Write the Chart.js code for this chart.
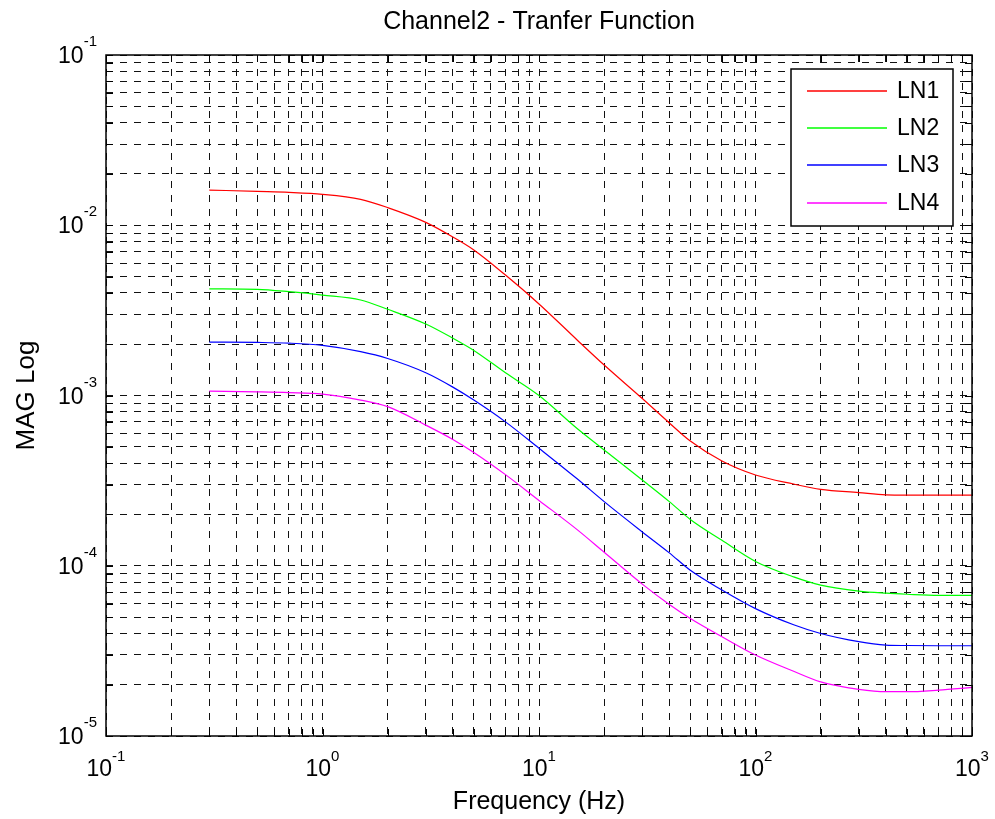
<!DOCTYPE html>
<html>
<head>
<meta charset="utf-8">
<script src="https://cdn.jsdelivr.net/npm/chart.js@4.4.1/dist/chart.umd.min.js"></script>
<style>
  html, body { margin: 0; padding: 0; background: #fff; }
  #wrap { width: 995px; height: 819px; }
</style>
</head>
<body>
<div id="wrap"><canvas id="tfChart"></canvas></div>
<script>
// frequencies (Hz)
const freqHz = [0.3, 0.5, 0.7, 1, 1.5, 2, 3, 4, 5, 7, 10, 15, 20, 30, 40, 50, 70, 100, 150, 200, 300, 400, 500, 700, 1000];

// magnitudes
const ln1 = [0.0161, 0.0158, 0.0156, 0.0152, 0.0142, 0.0127, 0.0104, 0.00853, 0.00716, 0.0051, 0.00345, 0.00212, 0.00151, 0.00096, 0.00069, 0.00054, 0.000412, 0.000341, 0.000302, 0.000281, 0.000269, 0.000261, 0.00026, 0.00026, 0.00026];
const ln2 = [0.00423, 0.0042, 0.00407, 0.00389, 0.00364, 0.00321, 0.00263, 0.00217, 0.00184, 0.00136, 0.001, 0.00064, 0.000479, 0.000319, 0.000238, 0.000187, 0.000141, 0.000106, 0.000086, 0.000077, 0.000071, 0.000069, 0.000068, 0.000067, 0.000067];
const ln3 = [0.00206, 0.00205, 0.00203, 0.00197, 0.00181, 0.00165, 0.00136, 0.00112, 0.00094, 0.0007, 0.00049, 0.000324, 0.000238, 0.000158, 0.000119, 0.000094, 0.000072, 0.000056, 0.000045, 0.00004, 0.0000358, 0.0000342, 0.000034, 0.0000339, 0.0000339];
const ln4 = [0.00106, 0.00105, 0.00104, 0.00102, 0.00094, 0.00086, 0.00067, 0.000552, 0.000463, 0.000343, 0.000242, 0.000163, 0.00012, 0.000078, 0.0000592, 0.000049, 0.0000383, 0.0000299, 0.000024, 0.0000208, 0.0000188, 0.0000182, 0.0000182, 0.0000186, 0.0000193];

const seriesNames = ['LN1', 'LN2', 'LN3', 'LN4'];
const seriesColors = ['#ff0000', '#00ff00', '#0000ff', '#ff00ff'];

// decade tick labels
const xDecades = [0.1, 1, 10, 100, 1000];
const yDecades = [1e-5, 1e-4, 1e-3, 1e-2, 1e-1];

const FONT = 'Arial, "Liberation Sans", Helvetica, sans-serif';

// 1..9 per decade, for the grid
function logTicks(decades) {
    const out = [];
    for (let i = 0; i < decades.length - 1; i++) {
        for (let k = 1; k <= 9; k++) out.push(+(k * decades[i]).toPrecision(6));
    }
    out.push(decades[decades.length - 1]);
    return out;
}
const xGrid = logTicks(xDecades);
const yGrid = logTicks(yDecades);

const series = [ln1, ln2, ln3, ln4].map((vals, i) => ({
    label: seriesNames[i],
    data: vals.map((v, j) => ({ x: freqHz[j], y: v })),
    borderColor: seriesColors[i],
    backgroundColor: seriesColors[i],
    borderWidth: 1.2,
    pointRadius: 0,
    fill: false,
    cubicInterpolationMode: 'monotone'
}));

// box, inner tick marks, 10^n labels, legend
const matlabAxes = {
    id: 'matlabAxes',
    afterDraw(chart) {
        const { ctx, chartArea: a, scales } = chart;
        ctx.save();
        ctx.strokeStyle = '#000';
        ctx.lineWidth = 1;
        ctx.beginPath();
        xGrid.forEach(v => {
            const px = Math.round(scales.x.getPixelForValue(v)) + 0.5;
            ctx.moveTo(px, a.bottom); ctx.lineTo(px, a.bottom - 7);
            ctx.moveTo(px, a.top); ctx.lineTo(px, a.top + 7);
        });
        yGrid.forEach(v => {
            const py = Math.round(scales.y.getPixelForValue(v)) + 0.5;
            ctx.moveTo(a.left, py); ctx.lineTo(a.left + 7, py);
            ctx.moveTo(a.right, py); ctx.lineTo(a.right - 7, py);
        });
        ctx.stroke();

        ctx.lineWidth = 1.5;
        ctx.strokeRect(a.left, a.top, a.right - a.left, a.bottom - a.top);

        // 10^n labels
        const baseFont = '23px ' + FONT;
        const expFont = '15px ' + FONT;
        ctx.fillStyle = '#000';
        ctx.textBaseline = 'alphabetic';
        ctx.textAlign = 'left';
        xDecades.forEach(v => {
            const e = String(Math.round(Math.log10(v)));
            ctx.font = baseFont; const wb = ctx.measureText('10').width;
            ctx.font = expFont; const we = ctx.measureText(e).width;
            const left = scales.x.getPixelForValue(v) - (wb + we) / 2;
            ctx.font = baseFont; ctx.fillText('10', left, a.bottom + 40);
            ctx.font = expFont; ctx.fillText(e, left + wb, a.bottom + 25);
        });
        yDecades.forEach(v => {
            const e = String(Math.round(Math.log10(v)));
            ctx.font = baseFont; const wb = ctx.measureText('10').width;
            ctx.font = expFont; const we = ctx.measureText(e).width;
            const py = scales.y.getPixelForValue(v);
            const left = a.left - 9 - wb - we;
            ctx.font = baseFont; ctx.fillText('10', left, py + 8);
            ctx.font = expFont; ctx.fillText(e, left + wb, py - 9);
        });

        // legend
        const bx = a.right - 181, by = a.top + 14, bw = 162, bh = 157;
        ctx.fillStyle = '#fff';
        ctx.fillRect(bx, by, bw, bh);
        ctx.lineWidth = 1.5;
        ctx.strokeStyle = '#000';
        ctx.strokeRect(bx, by, bw, bh);
        ctx.font = '23px ' + FONT;
        ctx.textBaseline = 'middle';
        chart.data.datasets.forEach((ds, i) => {
            const ly = Math.round(by + 22 + i * 37.2);
            ctx.strokeStyle = ds.borderColor;
            ctx.lineWidth = 1.6;
            ctx.beginPath();
            ctx.moveTo(bx + 16, ly); ctx.lineTo(bx + 96, ly);
            ctx.stroke();
            ctx.fillStyle = '#000';
            ctx.fillText(ds.label, bx + 106, ly + 1);
        });
        ctx.restore();
    }
};

new Chart(document.getElementById('tfChart').getContext('2d'), {
    type: 'line',
    data: { datasets: series },
    options: {
        responsive: true,
        maintainAspectRatio: false,
        animation: false,
        layout: { padding: { left: 0, right: 23, top: 0, bottom: 0 } },
        plugins: {
            legend: { display: false },
            tooltip: { enabled: false },
            title: {
                display: true,
                fullSize: false,
                text: 'Channel2 - Tranfer Function',
                color: '#000',
                font: { family: FONT, size: 25, weight: 'normal' },
                padding: { top: 7, bottom: 18 }
            }
        },
        scales: {
            x: {
                type: 'logarithmic',
                min: 0.1,
                max: 1000,
                afterBuildTicks: s => { s.ticks = xGrid.map(v => ({ value: v })); },
                afterFit: s => { s.height = 83; },
                ticks: { display: false, autoSkip: false },
                grid: { color: '#111', lineWidth: 1, drawTicks: false, tickLength: 0 },
                border: { display: false, dash: [7, 7] },
                title: {
                    display: true,
                    text: 'Frequency (Hz)',
                    color: '#000',
                    font: { family: FONT, size: 25, weight: 'normal' },
                    padding: { top: 0, bottom: 2 }
                }
            },
            y: {
                type: 'logarithmic',
                min: 1e-5,
                max: 1e-1,
                afterBuildTicks: s => { s.ticks = yGrid.map(v => ({ value: v })); },
                afterFit: s => { s.width = 106; },
                ticks: { display: false, autoSkip: false },
                grid: { color: '#111', lineWidth: 1, drawTicks: false, tickLength: 0 },
                border: { display: false, dash: [7, 7] },
                title: {
                    display: true,
                    text: 'MAG Log',
                    color: '#000',
                    font: { family: FONT, size: 26, weight: 'normal' },
                    padding: { top: 11, bottom: 0 }
                }
            }
        }
    },
    plugins: [matlabAxes]
});
</script>
</body>
</html>
